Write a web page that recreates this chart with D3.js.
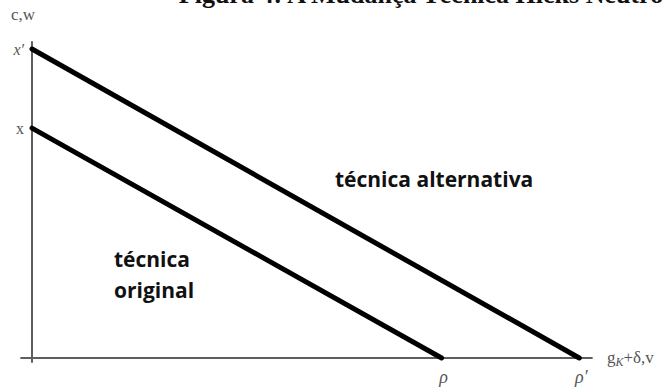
<!DOCTYPE html>
<html>
<head>
<meta charset="utf-8">
<script src="https://cdn.jsdelivr.net/npm/d3@7"></script>
<style>
  html, body { margin: 0; padding: 0; background: #fff; }
  svg { display: block; }
</style>
</head>
<body>
<svg id="chart" width="671" height="387"></svg>
<script>
// Technique frontiers: intercept on the c,w axis and on the g_K+δ,v axis
const techniques = ["original", "alternativa"];
const wageIntercepts = [7.44, 10];      // x, x'
const profitIntercepts = [7.05, 9.42];  // ρ, ρ'
const wageTickLabels = ["x", "x′"];
const profitTickLabels = ["ρ", "ρ′"];
const regionLabels = [["técnica", "original"], ["técnica alternativa"]];
const titleText = "Figura 4: A Mudança Técnica Hicks Neutro";

const svg = d3.select("#chart");

const x = d3.scaleLinear().domain([0, 10]).range([32, 613]);
const y = d3.scaleLinear().domain([0, 10]).range([358, 49]);

const serif = "Liberation Serif, Times New Roman, serif";

// Title (partly clipped at top edge)
svg.append("text")
  .attr("x", 421).attr("y", 3)
  .attr("text-anchor", "middle")
  .attr("font-family", serif)
  .attr("font-weight", "bold")
  .attr("font-size", 26)
  .attr("fill", "#111")
  .text(titleText);

// Axes
const axisColor = "#5e5e5e";
svg.append("line")
  .attr("x1", x(0)).attr("x2", x(0))
  .attr("y1", y(10.25)).attr("y2", y(-0.15))
  .attr("stroke", axisColor).attr("stroke-width", 2);
svg.append("line")
  .attr("x1", x(-0.2)).attr("x2", x(9.65))
  .attr("y1", y(0)).attr("y2", y(0))
  .attr("stroke", axisColor).attr("stroke-width", 2);

// Axis titles
svg.append("text")
  .attr("x", 11).attr("y", 20)
  .attr("font-family", serif)
  .attr("font-size", 17)
  .attr("fill", "#555")
  .text("c,w");

const gk = svg.append("text")
  .attr("x", 607).attr("y", 363)
  .attr("font-family", serif)
  .attr("font-size", 17)
  .attr("fill", "#555");
gk.append("tspan").text("g");
gk.append("tspan").attr("dy", 3).attr("font-size", 12).attr("font-style", "italic").text("K");
gk.append("tspan").attr("dy", -3).text("+δ,v");

// Technique frontier lines
const lineGen = d3.line().x(d => x(d[0])).y(d => y(d[1]));
svg.selectAll("path.frontier")
  .data(techniques.map((t, i) => [[0, wageIntercepts[i]], [profitIntercepts[i], 0]]))
  .join("path")
  .attr("class", "frontier")
  .attr("d", lineGen)
  .attr("fill", "none")
  .attr("stroke", "#000")
  .attr("stroke-width", 5)
  .attr("stroke-linecap", "round");

// Intercept labels on vertical axis
svg.selectAll("text.wtick")
  .data(wageIntercepts)
  .join("text")
  .attr("class", "wtick")
  .attr("x", 24).attr("y", d => y(d) + 6)
  .attr("text-anchor", "end")
  .attr("font-family", serif)
  .attr("font-style", (d, i) => i === 1 ? "italic" : "normal")
  .attr("font-size", 16)
  .attr("fill", "#555")
  .text((d, i) => wageTickLabels[i]);

// Intercept labels on horizontal axis
svg.selectAll("text.ptick")
  .data(profitIntercepts)
  .join("text")
  .attr("class", "ptick")
  .attr("x", d => x(d) + 2).attr("y", 383)
  .attr("text-anchor", "middle")
  .attr("font-family", serif)
  .attr("font-style", "italic")
  .attr("font-size", 18)
  .attr("fill", "#555")
  .text((d, i) => profitTickLabels[i]);

// Region labels
const labelFont = "'Open Sans', Lato, sans-serif";
svg.append("text")
  .attr("x", 335).attr("y", 187)
  .attr("font-family", labelFont)
  .attr("font-weight", "bold")
  .attr("font-size", 21)
  .attr("fill", "#111")
  .text(regionLabels[1][0]);

svg.append("text")
  .attr("font-family", labelFont)
  .attr("font-weight", "bold")
  .attr("font-size", 21)
  .attr("fill", "#111")
  .selectAll("tspan")
  .data(regionLabels[0])
  .join("tspan")
  .attr("x", 114)
  .attr("y", (d, i) => 267 + i * 31)
  .text(d => d);
</script>
</body>
</html>
